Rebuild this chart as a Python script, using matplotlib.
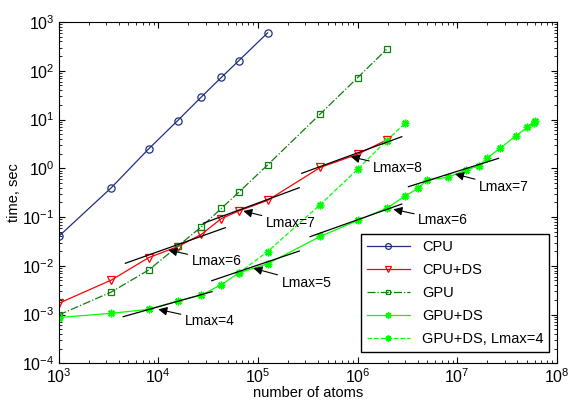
import numpy as np
import matplotlib
matplotlib.use("Agg")
import matplotlib.pyplot as plt

plt.rcParams['font.family'] = ['Liberation Sans', 'DejaVu Sans']
plt.rcParams['mathtext.default'] = 'regular'

# --- dane ---
cpu_n = [1000, 3375, 8000, 15625, 27000, 42875, 64000, 125000]
cpu_t = [0.040, 0.40, 2.5, 9.5, 29, 73, 160, 600]

cpuds_n = [1000, 3375, 8000, 15625, 27000, 42875, 64000, 125000, 421875, 1000000, 1953125]
cpuds_t = [0.0017, 0.0051, 0.0147, 0.0247, 0.044, 0.093, 0.133, 0.22, 1.04, 1.94, 3.8]

gpu_n = [1000, 3375, 8000, 15625, 27000, 42875, 64000, 125000, 421875, 1000000, 1953125]
gpu_t = [0.00098, 0.0029, 0.0082, 0.025, 0.063, 0.15, 0.32, 1.17, 13, 72, 275]

gpuds_n = [1000, 3375, 8000, 15625, 27000, 42875, 64000, 125000, 421875, 1000000, 1953125,
           3.0e6, 4.07e6, 4.95e6, 8.05e6, 1.23e7, 1.66e7, 1.98e7, 2.69e7, 3.87e7,
           5.07e7, 5.92e7, 6.1e7]
gpuds_t = [0.00087, 0.00106, 0.00128, 0.0019, 0.0025, 0.0041, 0.0071, 0.011, 0.040, 0.085, 0.151,
           0.27, 0.39, 0.575, 0.653, 0.92, 1.13, 1.60, 2.57, 4.6,
           6.9, 8.6, 9.3]

gpuds4_n = [64000, 125000, 421875, 1000000, 1953125, 3.0e6]
gpuds4_t = [0.0071, 0.0195, 0.18, 0.95, 3.7, 8.4]

# odcinki styczne (x0, x1, y0, y1) + strzalka (tip) + tekst
labels = ["Lmax=4", "Lmax=6", "Lmax=5", "Lmax=7", "Lmax=8", "Lmax=6", "Lmax=7"]
seg_x = [(4450, 34600), (4670, 47100), (34400, 2.6e5), (28300, 2.6e5),
         (2.75e5, 2.78e6), (3.34e5, 2.78e6), (3.24e6, 2.6e7)]
seg_y = [(9.05e-4, 2.95e-3), (0.01127, 0.0605), (0.00495, 0.0201), (0.0745, 0.40),
         (0.789, 4.45), (0.0396, 0.185), (0.42, 1.60)]
tip_xy = [(1.0e4, 1.28e-3), (12600, 0.0211), (9.0e4, 0.0089), (71300, 0.133),
          (8.55e5, 1.73), (2.29e6, 0.144), (9.5e6, 0.764)]
txt_xy = [(18500, 7.5e-4), (21600, 0.0127), (1.73e5, 0.0045), (1.2e5, 0.0766),
          (1.44e6, 1.03), (4.07e6, 0.087), (1.66e7, 0.42)]

CPU_COLOR = "#1f3080"
RED = "#ff0000"
GPU_COLOR = "#0c800c"
LIME = "#00ff00"
STAR = (8, 2, 0)  # gwiazdka jak w MATLABie

fig = plt.figure(figsize=(5.68, 4.01), dpi=100)
ax = fig.add_axes([0.1033, 0.094, 0.877, 0.851])

ax.plot(cpu_n, cpu_t, '-', marker='o', color=CPU_COLOR, lw=0.9, ms=5.2, mfc='none', mew=0.9, label="CPU")
ax.plot(cpuds_n, cpuds_t, '-', marker='v', color=RED, lw=0.9, ms=5.5, mfc='none', mew=0.9, label="CPU+DS")
ax.plot(gpu_n, gpu_t, '-.', marker='s', color=GPU_COLOR, lw=0.9, ms=4.2, mfc='none', mew=0.9, label="GPU")
ax.plot(gpuds_n, gpuds_t, '-', marker=STAR, color=LIME, lw=0.9, ms=5.5, mew=1.1, label="GPU+DS")
ax.plot(gpuds4_n, gpuds4_t, '--', marker=STAR, color=LIME, lw=0.9, ms=5.5, mew=1.1, label="GPU+DS, Lmax=4")

for lab, sx, sy, tip, tx in zip(labels, seg_x, seg_y, tip_xy, txt_xy):
    ax.plot(sx, sy, color='black', lw=0.9, zorder=5)
    ax.annotate(lab, xy=tip, xytext=tx, fontsize=10, ha='left', va='center',
                arrowprops=dict(arrowstyle='-|>', color='black', lw=0.8,
                                mutation_scale=13, shrinkA=1, shrinkB=0))

ax.set_xscale('log')
ax.set_yscale('log')
ax.set_xlim(1e3, 1e8)
ax.set_ylim(1e-4, 1e3)
ax.set_xlabel("number of atoms", fontsize=10.5, labelpad=0)
ax.set_ylabel("time, sec", fontsize=10.5, labelpad=1)
ax.tick_params(which='both', direction='in', top=True, right=True, labelsize=11.5)
ax.tick_params(which='major', length=4, pad=3)
ax.tick_params(which='minor', length=2)

ax.legend(loc='lower right', bbox_to_anchor=(0.985, 0.034), borderaxespad=0,
          fontsize=10.5, handlelength=3.0, numpoints=1, markerscale=0.8,
          labelspacing=0.62, fancybox=False, edgecolor='black', framealpha=1)

fig.savefig("out.png", dpi=100)
